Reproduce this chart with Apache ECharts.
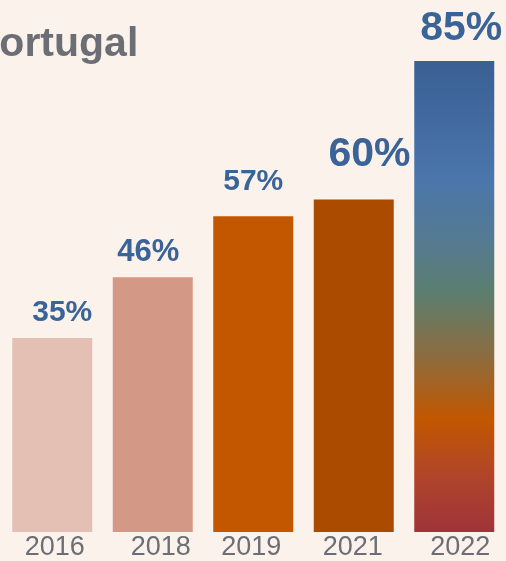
<!DOCTYPE html>
<html>
<head>
<meta charset="utf-8">
<script src="https://cdn.jsdelivr.net/npm/echarts@6/dist/echarts.min.js"></script>
<style>
html,body{margin:0;padding:0;background:#fbf2ec;}
#c{width:506px;height:561px;}
</style>
</head>
<body>
<div id="c"></div>
<script>
// Data
const categories = ['2016', '2018', '2019', '2021', '2022'];
const values = [35, 46, 57, 60, 85];
const titleText = 'Portugal';

// Styles (kept separate from data)
const barColors = ['#e3bfb4', '#d49886', '#c25700', '#ab4b00', null];
const labelSizes = [30, 31, 30, 41, 41];
const labelShift = [[10, -10.5], [-4.5, -9.5], [0, -19.5], [15.7, -24], [7, -12]];
const axisLabelShift = [2.5, 8, -2, -1, 6];

const font = '"Liberation Sans", Arial, Helvetica, sans-serif';
const chart = echarts.init(document.getElementById('c'));

const gradient = new echarts.graphic.LinearGradient(0, 0, 0, 1, [
  { offset: 0.00, color: '#3a5f95' },
  { offset: 0.25, color: '#4a76ab' },
  { offset: 0.38, color: '#557a92' },
  { offset: 0.49, color: '#5b7e6f' },
  { offset: 0.62, color: '#8a6d42' },
  { offset: 0.76, color: '#c25700' },
  { offset: 0.88, color: '#b0452a' },
  { offset: 1.00, color: '#a0333a' }
]);

const seriesData = values.map((v, i) => ({
  value: v,
  itemStyle: { color: barColors[i] || gradient },
  label: { fontSize: labelSizes[i], offset: labelShift[i] }
}));

const axisData = categories.map((c, i) => {
  const d = axisLabelShift[i];
  return {
    value: c,
    textStyle: { padding: d >= 0 ? [0, 0, 0, 2 * d] : [0, -2 * d, 0, 0] }
  };
});

chart.setOption({
  backgroundColor: '#fbf2ec',
  animation: false,
  title: {
    text: titleText,
    left: -28,
    top: 24,
    padding: 0,
    textStyle: { fontFamily: font, fontSize: 41, fontWeight: 'bold', color: '#6b6e75' }
  },
  grid: { left: 2, right: 1.5, top: 33.4, bottom: 29, containLabel: false },
  xAxis: {
    type: 'category',
    data: axisData,
    axisLine: { show: false },
    axisTick: { show: false },
    axisLabel: { margin: 2, fontFamily: font, fontSize: 27, color: '#6b6e75', interval: 0 }
  },
  yAxis: {
    type: 'value', min: 0, max: 90, show: false,
    splitLine: { show: false }
  },
  series: [{
    type: 'bar',
    data: seriesData,
    barWidth: 80,
    label: {
      show: true,
      position: 'top',
      distance: 0,
      formatter: '{c}%',
      fontFamily: font,
      fontWeight: 'bold',
      color: '#3a6398'
    }
  }]
});
</script>
</body>
</html>
